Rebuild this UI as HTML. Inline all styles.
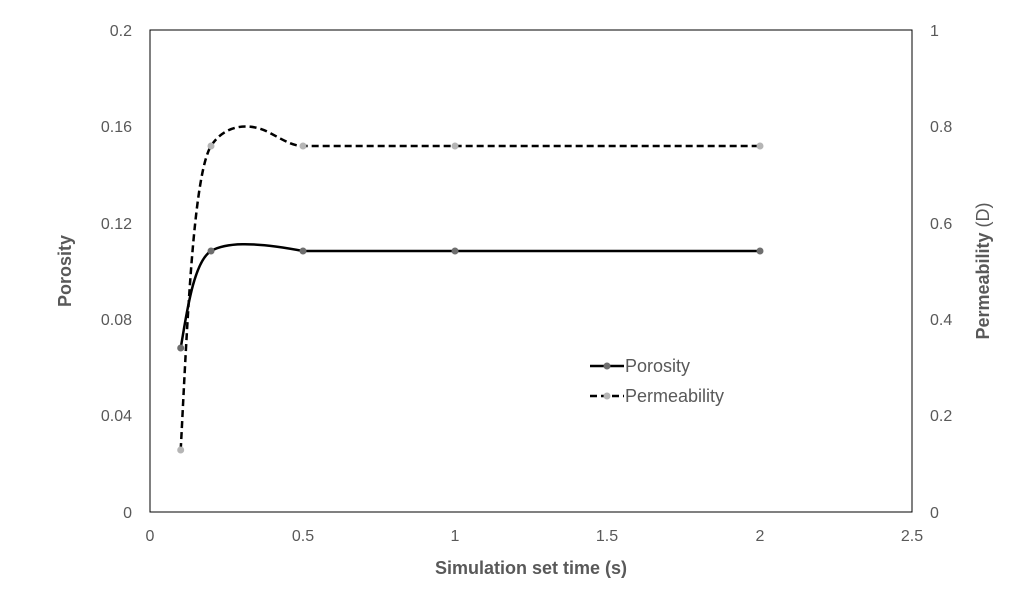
<!DOCTYPE html>
<html><head><style>body{margin:0;background:#fff}</style></head><body>
<svg width="1024" height="592" xmlns="http://www.w3.org/2000/svg" font-family="Liberation Sans, sans-serif">
<rect x="0" y="0" width="1024" height="592" fill="#fff"/>
<rect x="150" y="30" width="762" height="482" fill="none" stroke="#000" stroke-width="1"/>
<g font-size="16" fill="#595959" text-anchor="end">
<text x="132" y="36">0.2</text><text x="132" y="132">0.16</text><text x="132" y="229">0.12</text>
<text x="132" y="325">0.08</text><text x="132" y="421">0.04</text><text x="132" y="518">0</text>
</g>
<g font-size="16" fill="#595959" text-anchor="start">
<text x="930" y="36">1</text><text x="930" y="132">0.8</text><text x="930" y="229">0.6</text>
<text x="930" y="325">0.4</text><text x="930" y="421">0.2</text><text x="930" y="518">0</text>
</g>
<g font-size="16" fill="#595959" text-anchor="middle">
<text x="150" y="541">0</text><text x="303" y="541">0.5</text><text x="455" y="541">1</text>
<text x="607" y="541">1.5</text><text x="760" y="541">2</text><text x="912" y="541">2.5</text>
</g>
<text x="531" y="574" font-size="18" font-weight="bold" fill="#595959" text-anchor="middle">Simulation set time (s)</text>
<text transform="translate(71,271) rotate(-90)" font-size="18" font-weight="bold" fill="#595959" text-anchor="middle">Porosity</text>
<text transform="translate(989,271) rotate(-90)" font-size="18" font-weight="bold" fill="#595959" text-anchor="middle">Permeability <tspan font-weight="normal">(D)</tspan></text>
<path d="M180.7,348 C186,318 193,262 211,251 C225,243 250,241 303,251 L760,251" fill="none" stroke="#000" stroke-width="2.5"/>
<path d="M180.7,450 C187,330 193,175 211,146 C225,124 250,122 270,133 C285,141 293,146 303,146 L760,146" fill="none" stroke="#000" stroke-width="2.5" stroke-dasharray="7,4"/>
<g fill="#6e6e6e"><circle cx="180.7" cy="348" r="3.5"/><circle cx="211" cy="251" r="3.5"/><circle cx="303" cy="251" r="3.5"/><circle cx="455" cy="251" r="3.5"/><circle cx="760" cy="251" r="3.5"/></g>
<g fill="#b5b5b5"><circle cx="180.7" cy="450" r="3.5"/><circle cx="211" cy="146" r="3.5"/><circle cx="303" cy="146" r="3.5"/><circle cx="455" cy="146" r="3.5"/><circle cx="760" cy="146" r="3.5"/></g>
<line x1="590" y1="366" x2="624" y2="366" stroke="#000" stroke-width="2.5"/><circle cx="607" cy="366" r="3.5" fill="#6e6e6e"/>
<line x1="590" y1="396" x2="624" y2="396" stroke="#000" stroke-width="2.5" stroke-dasharray="7,4"/><circle cx="607" cy="396" r="3.5" fill="#b5b5b5"/>
<text x="625" y="372" font-size="18" fill="#595959">Porosity</text>
<text x="625" y="402" font-size="18" fill="#595959">Permeability</text>
</svg>
</body></html>
